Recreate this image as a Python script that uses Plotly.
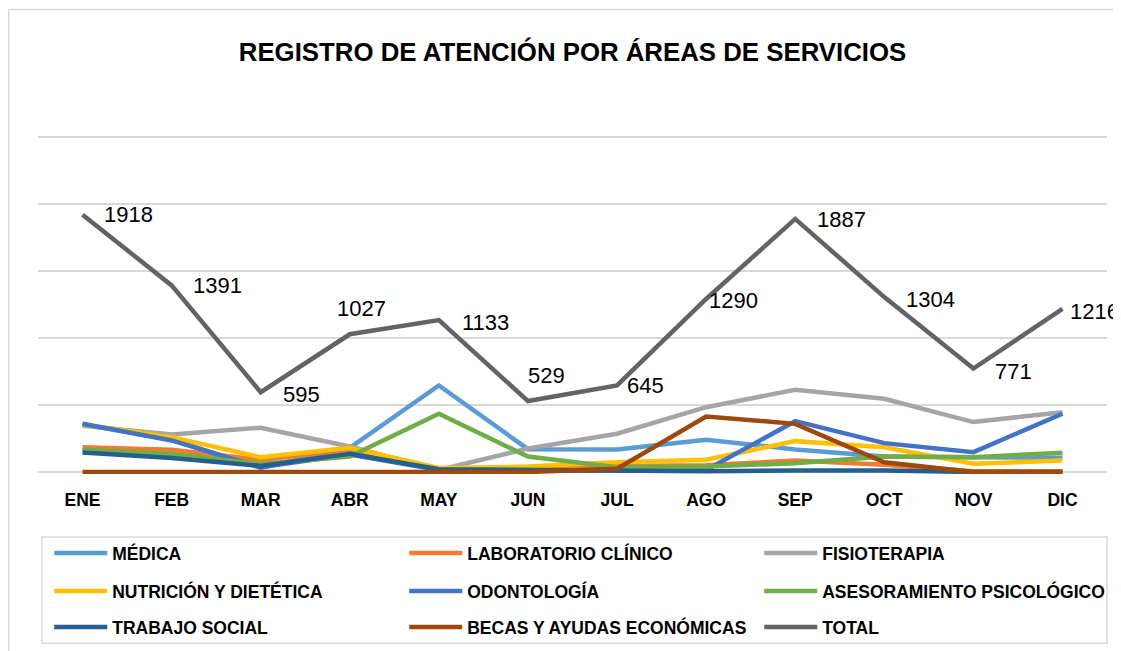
import plotly.graph_objects as go

# Registro mensual de atención por área
meses = ['ENE', 'FEB', 'MAR', 'ABR', 'MAY', 'JUN', 'JUL', 'AGO', 'SEP', 'OCT', 'NOV', 'DIC']
medica = [355, 240, 30, 180, 645, 170, 168, 240, 168, 116, 110, 106]
laboratorio = [185, 165, 90, 165, 15, 25, 45, 50, 85, 54, 5, 5]
fisioterapia = [345, 280, 330, 190, 15, 175, 285, 483, 613, 546, 372, 446]
nutricion = [355, 260, 110, 180, 30, 40, 73, 91, 230, 185, 61, 86]
odontologia = [360, 235, 35, 130, 15, 10, 10, 15, 379, 215, 148, 434]
psicologico = [165, 135, 60, 115, 434, 115, 35, 40, 66, 116, 110, 143]
trabajo_social = [145, 105, 45, 135, 20, 15, 8, 6, 11, 11, 0, 0]
becas = [0, 0, 0, 0, 0, 0, 24, 414, 359, 73, 0, 0]
total = [1918, 1391, 595, 1027, 1133, 529, 645, 1290, 1887, 1304, 771, 1216]

series = [
    ('MÉDICA', medica, '#5B9BD5', 'legend'),
    ('LABORATORIO CLÍNICO', laboratorio, '#ED7D31', 'legend'),
    ('FISIOTERAPIA', fisioterapia, '#A5A5A5', 'legend'),
    ('NUTRICIÓN Y DIETÉTICA', nutricion, '#FFC000', 'legend2'),
    ('ODONTOLOGÍA', odontologia, '#4472C4', 'legend2'),
    ('ASESORAMIENTO PSICOLÓGICO', psicologico, '#70AD47', 'legend2'),
    ('TRABAJO SOCIAL', trabajo_social, '#255E91', 'legend3'),
    ('BECAS Y AYUDAS ECONÓMICAS', becas, '#9E480E', 'legend3'),
    ('TOTAL', total, '#636363', 'legend3'),
]

fig = go.Figure()
for nombre, valores, color, leg in series:
    fig.add_trace(go.Scatter(x=meses, y=valores, name=nombre, mode='lines',
                             line=dict(color=color, width=4.5), legend=leg))

# etiquetas del total (desplazamientos como en el original)
desp = [(19, 0, 'left'), (19, 0, 'left'), (20, -2, 'left'), (12, 26, 'center'),
        (21, -2, 'left'), (19, 26, 'center'), (8, 0, 'left'), (1, -2, 'left'),
        (20, -1, 'left'), (20, -2, 'left'), (20, -3, 'left'), (6, -3, 'left')]
for mes, val, (dx, dy, anc) in zip(meses, total, desp):
    fig.add_annotation(x=mes, y=val, text=str(val), showarrow=False,
                       xanchor=anc, yanchor='middle', xshift=dx, yshift=dy,
                       font=dict(family='Liberation Sans', size=22, color='#000000'))

fuente_leyenda = dict(family='Liberation Sans', size=17.5, color='#000000', weight='bold')
def leyenda(y):
    return dict(orientation='h', x=0.0105, xanchor='left', y=y, yanchor='middle',
                entrywidth=287, entrywidthmode='pixels', itemwidth=53, font=fuente_leyenda,
                bgcolor='rgba(0,0,0,0)', borderwidth=0, traceorder='normal')

fig.update_layout(
    width=1113, height=643,
    margin=dict(l=30, r=14, t=126.3, b=177, autoexpand=False),
    paper_bgcolor='white', plot_bgcolor='white',
    title=dict(text='REGISTRO DE ATENCIÓN POR ÁREAS DE SERVICIOS', x=0.5, xref='paper',
               xanchor='center', y=0.9316, yanchor='middle',
               font=dict(family='Liberation Sans', size=25.8, color='#000000', weight='bold')),
    xaxis=dict(type='category', range=[-0.5, 11.5], showgrid=False, showline=False,
               zeroline=False, ticks='', ticklabelstandoff=13,
               tickfont=dict(family='Liberation Sans', size=17.5, color='#000000', weight='bold')),
    yaxis=dict(range=[-15, 2520], dtick=500, tick0=0, showticklabels=False,
               gridcolor='#D9D9D9', gridwidth=1.5, zeroline=False, showline=False),
    legend=leyenda(-0.2326),
    legend2=leyenda(-0.3444),
    legend3=leyenda(-0.4504),
    showlegend=True,
    shapes=[
        dict(type='rect', xref='paper', yref='paper', x0=-0.02736, x1=1.03, y0=-0.56, y1=1.3659,
             line=dict(color='#D9D9D9', width=1.5), fillcolor='rgba(0,0,0,0)', layer='below'),
        dict(type='rect', xref='paper', yref='paper', x0=0.0037, x1=1.0, y0=-0.4975, y1=-0.1855,
             line=dict(color='#D9D9D9', width=1.5), fillcolor='rgba(0,0,0,0)', layer='below'),
    ],
)

fig.write_html("out.html")
